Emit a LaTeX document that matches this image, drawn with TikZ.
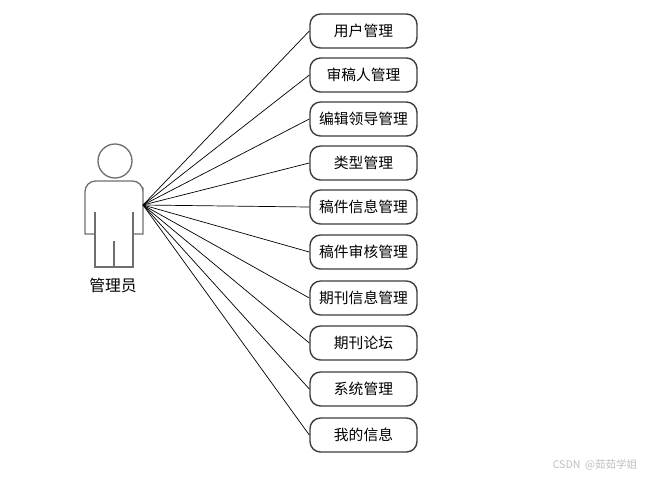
\documentclass[tikz,border=0pt]{standalone}
\usepackage{xcolor}
\usepackage{fontspec}
\setmainfont{Noto Sans CJK SC}
\usepackage{tikz}
\usetikzlibrary{positioning,calc}
\definecolor{actorgray}{RGB}{110,110,110}
\definecolor{boxedge}{RGB}{60,60,60}

\begin{document}
\begin{tikzpicture}[every node/.style={font=\fontsize{8.4}{10}\selectfont, align=center},
    funcbox/.style={draw=boxedge, thick, rounded corners=6pt, fill=white, minimum width=\bw, minimum height=\bh, inner sep=0pt},
    actorline/.style={draw=actorgray, line width=0.75pt},
    link/.style={draw=black, line width=0.4pt}]
  \def\bw{2.14cm}  \def\bh{0.68cm}
  \useasboundingbox (0,0) rectangle (12.94,-9.52);

  % actor
  \draw[actorline] (2.30,-3.22) circle (0.34);
  \draw[actorline] (1.90,-4.68) -- (1.70,-4.68) -- (1.70,-3.96) [rounded corners=6pt] -- (1.70,-3.62) -- (2.86,-3.62) -- (2.86,-3.96) [sharp corners] -- (2.86,-4.68) -- (2.66,-4.68);
  \draw[actorline] (1.90,-4.24) -- (1.90,-5.34) -- (2.66,-5.34) -- (2.66,-4.24);
  \draw[actorline] (2.28,-4.82) -- (2.28,-5.34);
  \coordinate (hand) at (2.86,-4.10);
  \node (actor) at (2.26,-5.70) {\fontsize{9}{10}\selectfont 管理员};

  % function boxes
  \node[funcbox] (f0) at (7.27,-0.62) {用户管理};
  \node[funcbox] (f1) at ($(f0)+(0,-0.88)$) {审稿人管理};
  \node[funcbox] (f2) at ($(f1)+(0,-0.88)$) {编辑领导管理};
  \node[funcbox] (f3) at ($(f2)+(0,-0.88)$) {类型管理};
  \node[funcbox] (f4) at ($(f3)+(0,-0.88)$) {稿件信息管理};
  \node[funcbox] (f5) at ($(f4)+(0,-0.90)$) {稿件审核管理};
  \node[funcbox] (f6) at ($(f5)+(0,-0.92)$) {期刊信息管理};
  \node[funcbox] (f7) at ($(f6)+(0,-0.90)$) {期刊论坛};
  \node[funcbox] (f8) at ($(f7)+(0,-0.92)$) {系统管理};
  \node[funcbox] (f9) at ($(f8)+(0,-0.92)$) {我的信息};

  \foreach \i in {0,...,9}
    \draw[link] (hand) -- (f\i.west);

  \node[font=\fontsize{6}{7}\selectfont, text=black!25] (mark) at (11.90,-9.30) {CSDN\ \ @茹茹学姐};
\end{tikzpicture}
\end{document}
